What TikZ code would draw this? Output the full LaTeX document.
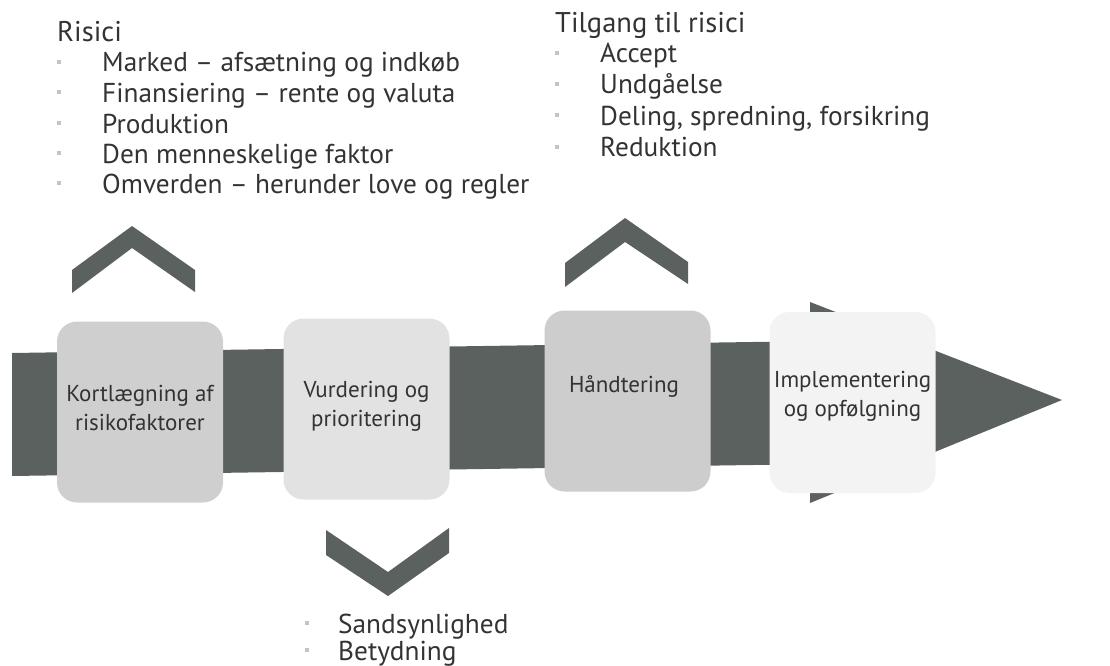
\documentclass[tikz,border=0pt]{standalone}
\usepackage{fontspec}
\setmainfont{PT Sans}
\definecolor{dark}{HTML}{5B615F}
\definecolor{txt}{HTML}{333333}
\definecolor{bul}{HTML}{C4C4C4}
\definecolor{fa}{HTML}{CFCFCF}
\definecolor{fb}{HTML}{E2E2E2}
\definecolor{fc}{HTML}{CDCDCD}
\definecolor{fd}{HTML}{F3F3F3}
\tikzset{
  box/.style={rectangle, rounded corners=20pt, inner sep=0pt, minimum width=166pt, minimum height=181pt},
  boxtext/.style={text=txt, align=center, font=\fontsize{23}{28.5}\selectfont, inner sep=0pt},
  head/.style={text=txt, anchor=base west, font=\fontsize{28.5}{30}\selectfont, inner sep=0pt},
  item/.style={text=txt, anchor=base west, font=\fontsize{27.3}{30}\selectfont, inner sep=0pt},
  dot/.style={fill=bul, draw=none, minimum size=4pt, inner sep=0pt, rectangle},
  shape/.style={fill=dark, draw=none}
}
\begin{document}
\begin{tikzpicture}[x=1pt,y=-1pt]
\useasboundingbox (0,0) rectangle (1110,666);
% main bar and arrow head
\fill[dark] (12,353) -- (820,341) -- (820,464) -- (12,476) -- cycle;
\fill[dark] (810,302) -- (1062,400) -- (810,503) -- cycle;
% chevrons
\fill[dark] (72,270) -- (132,226) -- (195,270) -- (195,292) -- (132,248) -- (72,293) -- cycle;
\fill[dark] (565,263) -- (625,218) -- (688,262) -- (688,284) -- (625,242) -- (565,287) -- cycle;
\fill[dark] (326,530) -- (388,572) -- (449,528) -- (449,553) -- (388,596) -- (326,555) -- cycle;
% boxes
\node[box, fill=fa] (k) at (140,412) {};
\node[box, fill=fb] (v) at (366.5,409) {};
\node[box, fill=fc] (h) at (627.5,401) {};
\node[box, fill=fd] (i) at (852.5,402.5) {};
\node[boxtext] (kt) at (140,408) {Kortlægning af\\risikofaktorer};
\node[boxtext] (vt) at (366.5,406.5) {Vurdering og\\prioritering};
\node[boxtext, anchor=base] (ht) at (624,392) {Håndtering};
\node[boxtext] (it) at (852.5,396.5) {Implementering\\og opfølgning};
% Risici list
\node[head] (r0) at (57,42) {Risici};
\node[item] (r1) at (102,72) {Marked – afsætning og indkøb};
\node[item] (r2) at (102,102.5) {Finansiering – rente og valuta};
\node[item] (r3) at (102,133) {Produktion};
\node[item] (r4) at (102,163) {Den menneskelige faktor};
\node[item] (r5) at (102,193) {Omverden – herunder love og regler};
\foreach \y [count=\n] in {72,102.5,133,163,193} \node[dot] (rd\n) at (59,\y-10) {};
% Tilgang list
\node[head] (t0) at (555,33) {Tilgang til risici};
\node[item] (t1) at (600,63) {Accept};
\node[item] (t2) at (600,94) {Undgåelse};
\node[item] (t3) at (600,125.5) {Deling, spredning, forsikring};
\node[item] (t4) at (600,157) {Reduktion};
\foreach \y [count=\n] in {63,94,125.5,157} \node[dot] (td\n) at (557,\y-10) {};
% bottom list
\node[item] (s1) at (338,633) {Sandsynlighed};
\node[item] (s2) at (338,660) {Betydning};
\foreach \y [count=\n] in {633,660} \node[dot] (sd\n) at (307,\y-10) {};
\end{tikzpicture}
\end{document}
